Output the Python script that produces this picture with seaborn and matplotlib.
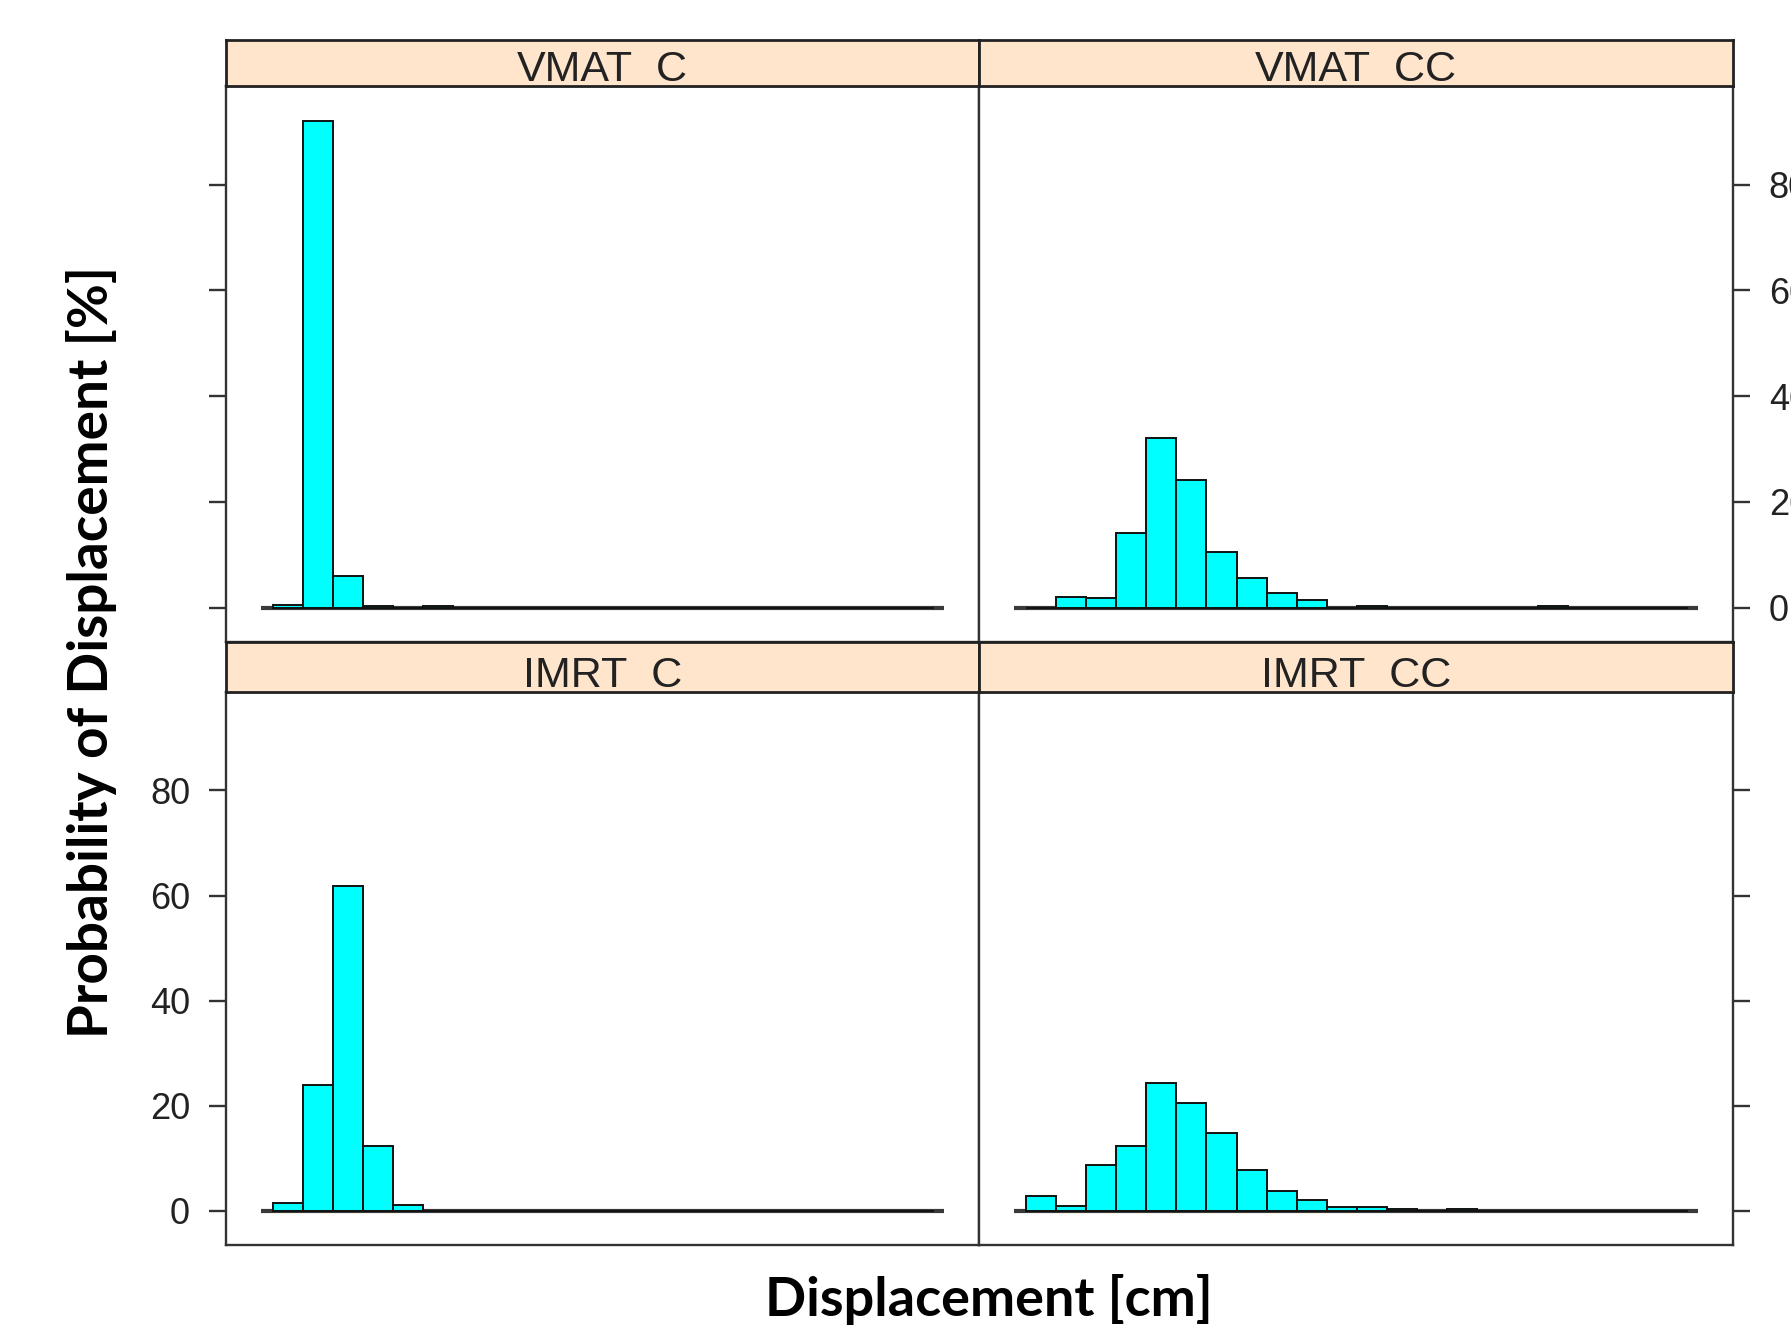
import numpy as np
import matplotlib
matplotlib.use("Agg")
import matplotlib.pyplot as plt
import seaborn as sns

sns.set_style("white")
plt.rcParams['font.family'] = ['Liberation Sans Narrow', 'Liberation Sans', 'DejaVu Sans']

# histogram data (percent per bin), bins of 0.25 cm starting at 0
bin_edges = np.arange(0, 5.5 + 0.001, 0.25)
bin_centers = (bin_edges[:-1] + bin_edges[1:]) / 2

vmat_c = [0.5, 92.0, 5.9, 0.3, 0, 0.3, 0, 0, 0, 0, 0, 0, 0, 0, 0, 0, 0, 0, 0, 0, 0, 0]
vmat_cc = [0, 2.0, 1.9, 14.1, 32.1, 24.1, 10.6, 5.6, 2.8, 1.5, 0, 0.3, 0, 0, 0, 0, 0, 0.3, 0, 0, 0, 0]
imrt_c = [1.5, 23.9, 61.8, 12.4, 1.1, 0, 0, 0, 0, 0, 0, 0, 0, 0, 0, 0, 0, 0, 0, 0, 0, 0]
imrt_cc = [2.8, 0.9, 8.7, 12.4, 24.3, 20.6, 14.8, 7.8, 3.7, 2.0, 0.8, 0.8, 0.3, 0, 0.4, 0, 0, 0, 0, 0, 0, 0]

panel_names = ["VMAT_C", "VMAT_CC", "IMRT_C", "IMRT_CC"]
panel_values = [vmat_c, vmat_cc, imrt_c, imrt_cc]
hist_range = [-0.1, 5.58]
y_ticks = [0, 20, 40, 60, 80]
x_ticks = [0, 1, 2, 3, 4, 5]

fig = plt.figure(figsize=(17.91, 13.25), dpi=100)

W, H = 1568, 1160
L, M, R = 198 / W, 857 / W, 1517 / W
rows = [  # (strip top, panel top, panel bottom) in px from top
    (35, 75, 562),
    (562, 606, 1090),
]

edge = '#333333'
axes = []
for i, (name, vals) in enumerate(zip(panel_names, panel_values)):
    r, c = divmod(i, 2)
    s_top, p_top, p_bot = rows[r]
    x0 = L if c == 0 else M
    w = M - L if c == 0 else R - M
    ax = fig.add_axes([x0, 1 - p_bot / H, w, (p_bot - p_top) / H])
    sax = fig.add_axes([x0, 1 - p_top / H, w, (p_top - s_top) / H])

    ax.hlines(0, hist_range[0], hist_range[1], color='#3a3a3a', lw=3, zorder=0.5)
    sns.histplot(x=bin_centers, weights=np.array(vals, dtype=float), bins=bin_edges.tolist(), ax=ax,
                 color='#00FFFF', edgecolor='#111111', linewidth=1.4, alpha=1)
    ax.set_xlim(-0.389, 5.869)
    ax.set_ylim(-6.5, 98.7)
    ax.set_xlabel("")
    ax.set_ylabel("")
    ax.set_yticks(y_ticks)
    ax.set_xticks(x_ticks)
    for sp in ax.spines.values():
        sp.set_color(edge)
        sp.set_linewidth(1.7)
    ax.tick_params(axis='both', direction='out', color=edge, width=1.7,
                   labelsize=26, labelcolor='#222222', pad=14)
    ax.tick_params(axis='y', length=12)
    ax.tick_params(axis='x', length=4, labelbottom=False)
    if r == 0:
        ax.tick_params(axis='x', bottom=False)
    if c == 0:
        ax.tick_params(axis='y', left=True, right=False, labelleft=(r == 1))
    else:
        ax.yaxis.tick_right()
        ax.tick_params(axis='y', right=True, left=False, labelright=(r == 0))

    sax.set_facecolor('#FFE5CC')
    sax.set_xticks([])
    sax.set_yticks([])
    for sp in sax.spines.values():
        sp.set_color('#222222')
        sp.set_linewidth(2)
    sax.text(0.5, 0.1, name, transform=sax.transAxes, ha='center', va='baseline',
             fontsize=31, color='#222222', clip_on=True, zorder=1)
    axes.append(ax)

fig.text(0.051, 0.508, "Probability of Displacement [%]", rotation=90,
         ha='center', va='center', fontsize=39.5, fontweight='bold',
         family=['Lato', 'DejaVu Sans'], color='black')
fig.text(0.552, 0.019, "Displacement [cm]", ha='center', va='center',
         fontsize=39, fontweight='bold', family=['Lato', 'DejaVu Sans'], color='black')

fig.savefig("out.png", dpi=100)
